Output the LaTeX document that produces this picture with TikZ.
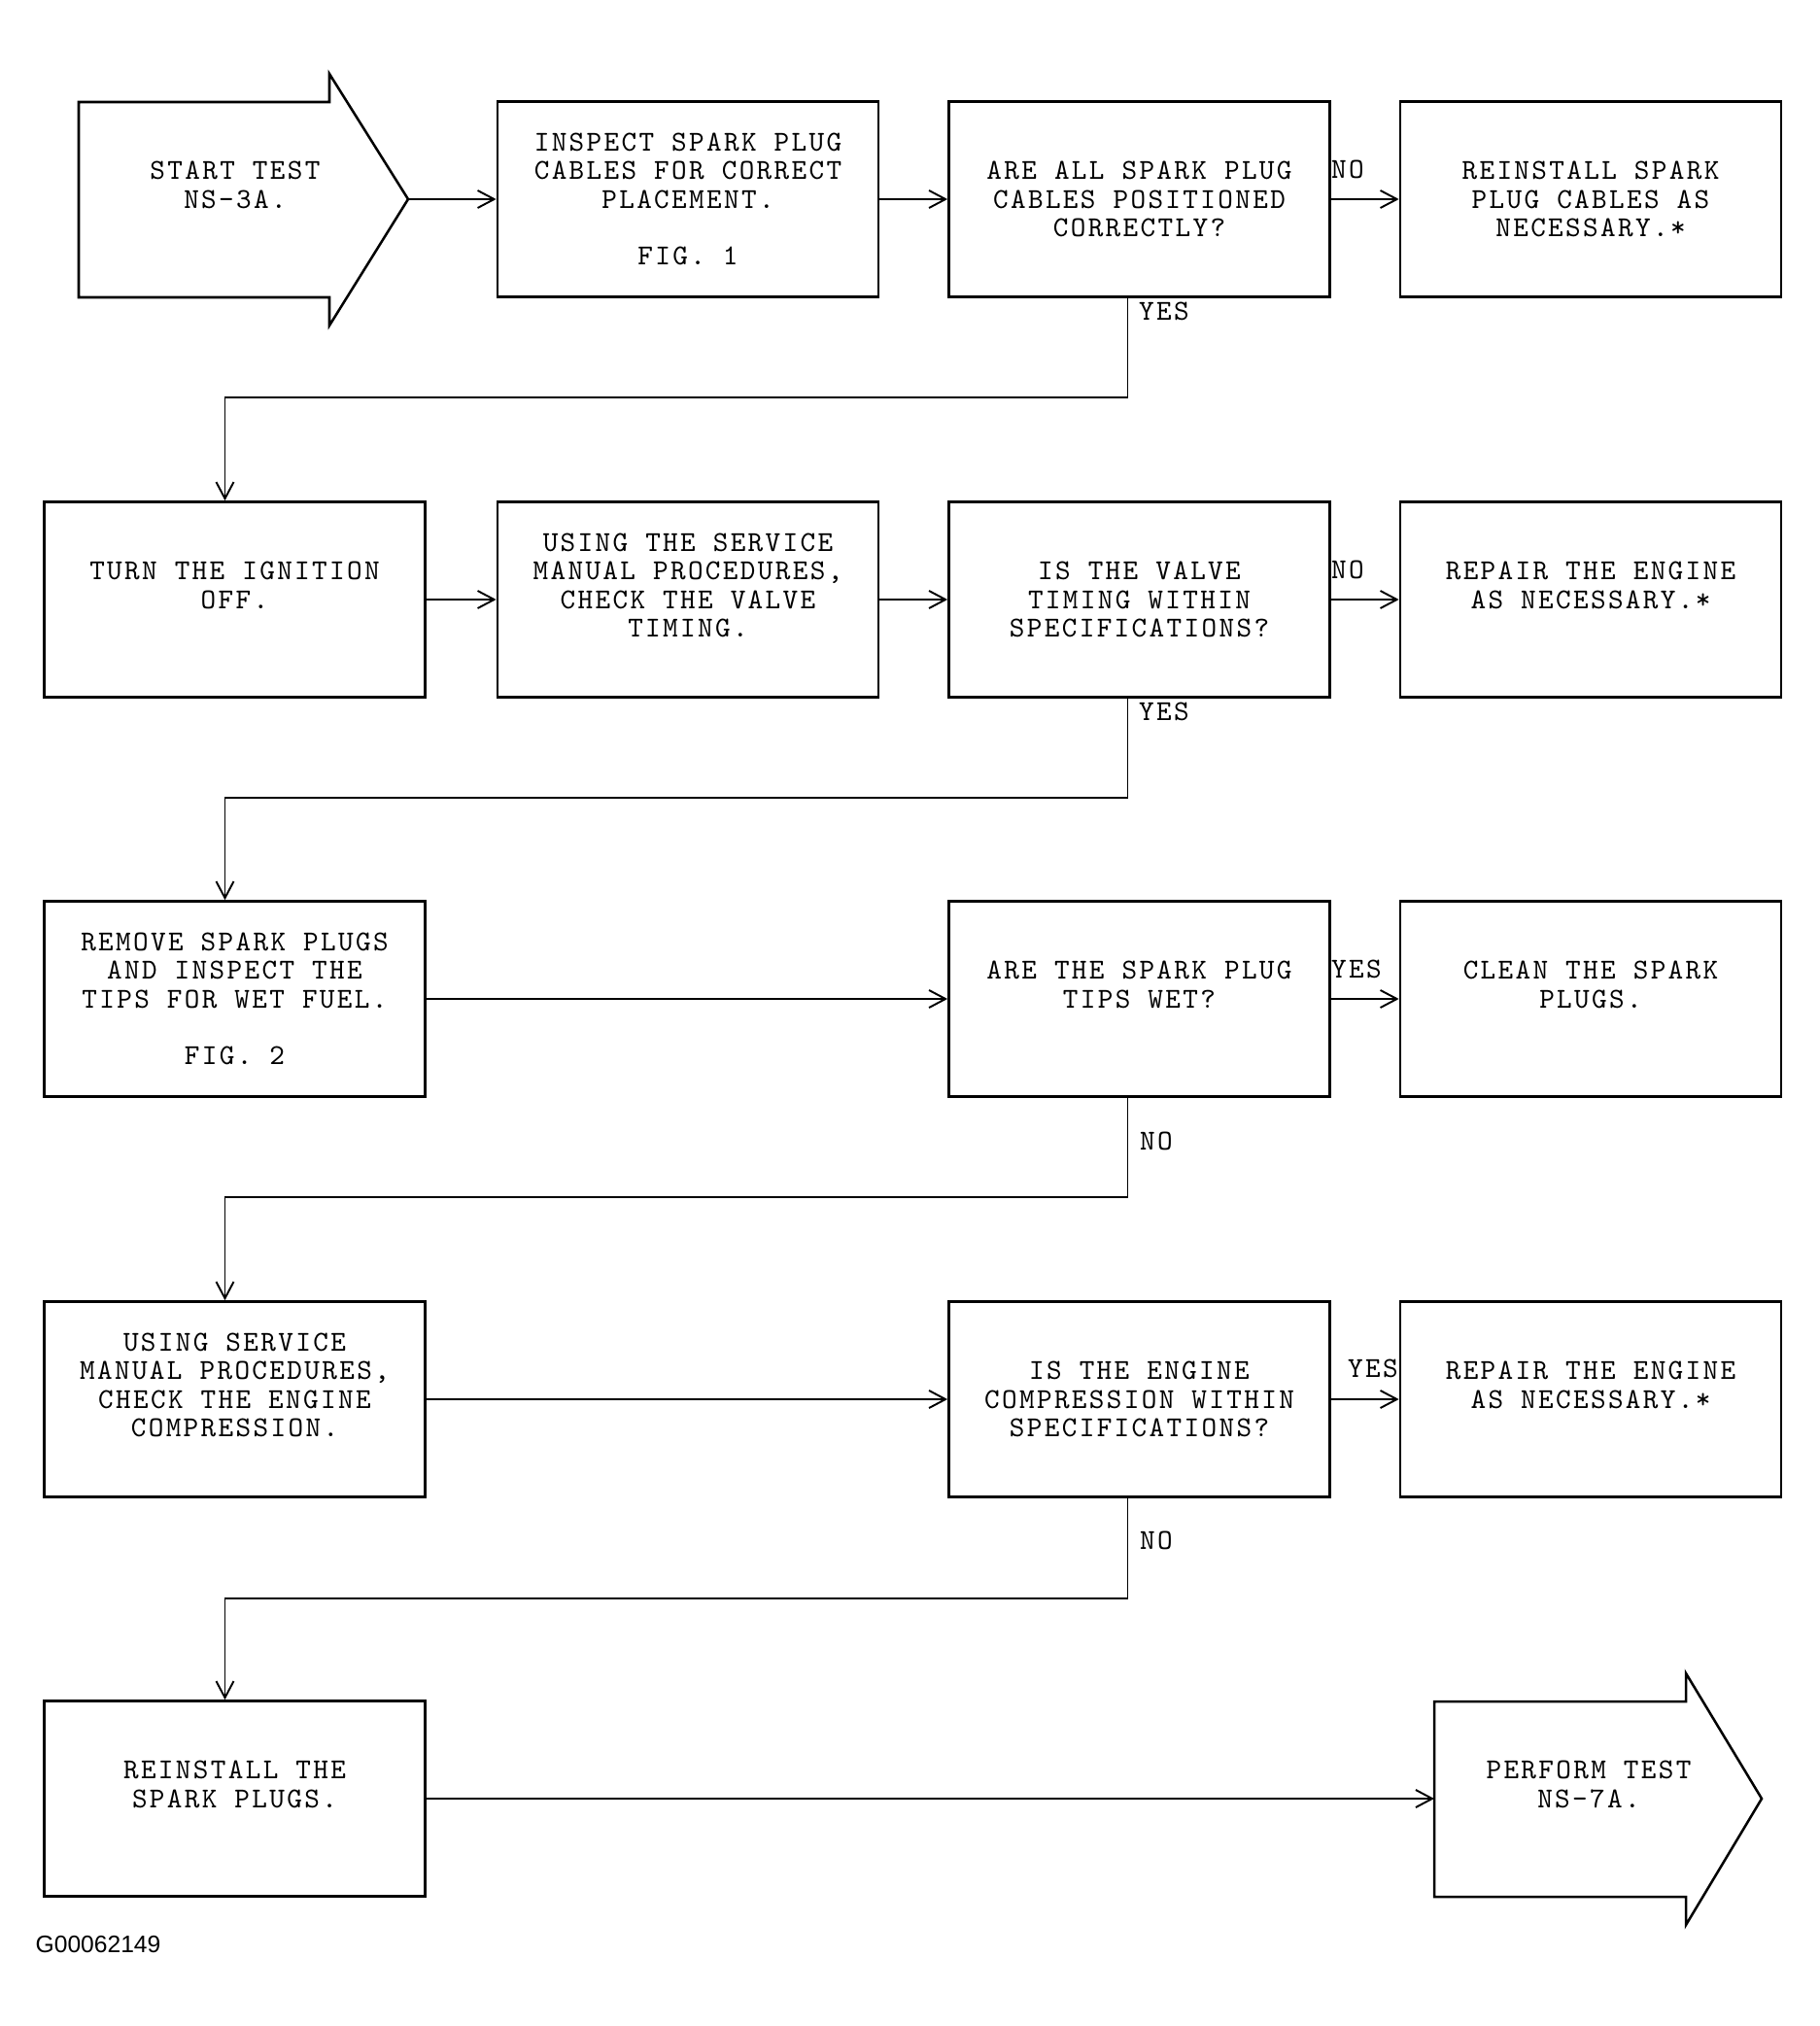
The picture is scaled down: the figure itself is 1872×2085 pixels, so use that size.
\documentclass[tikz,border=0pt]{standalone}
\usepackage{fontspec}
\setmonofont{lmmono10-regular.otf}[LetterSpace=8]
\setsansfont{Liberation Sans}
\usetikzlibrary{arrows.meta,calc}
\newcommand\flowfont{\ttfamily\fontsize{8.45}{8.35}\selectfont}
\begin{document}
\begin{tikzpicture}[x=0.01cm,y=-0.01cm,
  boxnode/.style={draw, line width=0.72pt, minimum width=3.92cm, minimum height=2.01cm, inner sep=0pt, align=center, font=\flowfont},
  shapeline/.style={draw, line width=0.72pt, line join=miter},
  txt/.style={align=center, font=\flowfont, inner sep=0pt},
  lbl/.style={font=\flowfont, inner sep=0pt},
  conn/.style={line width=0.55pt, -{Straight Barb[length=1.7mm,width=1.8mm]}},
]
\useasboundingbox (0,0) rectangle (1872,2085);

% start arrow
\draw[shapeline] (81,105) -- (339,105) -- (339,76) -- (420,205) -- (339,335) -- (339,306) -- (81,306) -- cycle;
\node[txt] (start) at (242,205) {START TEST\\NS-3A.\\\mbox{}};
\coordinate (starttip) at (420,205);

% end arrow
\draw[shapeline] (1476,1751) -- (1735,1751) -- (1735,1722) -- (1813,1851) -- (1735,1981) -- (1735,1952) -- (1476,1952) -- cycle;
\node[txt] (finish) at (1635,1851) {PERFORM TEST\\NS-7A.\\\mbox{}};
\coordinate (endin) at (1476,1851);

% row 1
\node[boxnode] (b12) at (708,205) {INSPECT SPARK PLUG\\CABLES FOR CORRECT\\PLACEMENT.\\\mbox{}\\FIG. 1};
\node[boxnode] (b13) at (1172.5,205) {ARE ALL SPARK PLUG\\CABLES POSITIONED\\CORRECTLY?};
\node[boxnode] (b14) at (1637,205) {REINSTALL SPARK\\PLUG CABLES AS\\NECESSARY.*};
% row 2
\node[boxnode] (b21) at (241.5,617) {TURN THE IGNITION\\OFF.\\\mbox{}};
\node[boxnode] (b22) at (708,617) {USING THE SERVICE\\MANUAL PROCEDURES,\\CHECK THE VALVE\\TIMING.\\\mbox{}};
\node[boxnode] (b23) at (1172.5,617) {IS THE VALVE\\TIMING WITHIN\\SPECIFICATIONS?};
\node[boxnode] (b24) at (1637,617) {REPAIR THE ENGINE\\AS NECESSARY.*\\\mbox{}};
% row 3
\node[boxnode] (b31) at (241.5,1028) {REMOVE SPARK PLUGS\\AND INSPECT THE\\TIPS FOR WET FUEL.\\\mbox{}\\FIG. 2};
\node[boxnode] (b33) at (1172.5,1028) {ARE THE SPARK PLUG\\TIPS WET?\\\mbox{}};
\node[boxnode] (b34) at (1637,1028) {CLEAN THE SPARK\\PLUGS.\\\mbox{}};
% row 4
\node[boxnode] (b41) at (241.5,1440) {USING SERVICE\\MANUAL PROCEDURES,\\CHECK THE ENGINE\\COMPRESSION.\\\mbox{}};
\node[boxnode] (b43) at (1172.5,1440) {IS THE ENGINE\\COMPRESSION WITHIN\\SPECIFICATIONS?};
\node[boxnode] (b44) at (1637,1440) {REPAIR THE ENGINE\\AS NECESSARY.*\\\mbox{}};
% row 5
\node[boxnode] (b51) at (241.5,1851) {REINSTALL THE\\SPARK PLUGS.\\\mbox{}};

% connectors
\draw[conn] (starttip) -- (b12.west);
\draw[conn] (b12.east) -- (b13.west);
\draw[conn] (b13.east) -- (b14.west);
\draw[conn] ([xshift=-0.12cm]b13.south) -- ++(0,102) -| ([xshift=-0.1cm]b21.north);
\draw[conn] (b21.east) -- (b22.west);
\draw[conn] (b22.east) -- (b23.west);
\draw[conn] (b23.east) -- (b24.west);
\draw[conn] ([xshift=-0.12cm]b23.south) -- ++(0,102) -| ([xshift=-0.1cm]b31.north);
\draw[conn] (b31.east) -- (b33.west);
\draw[conn] (b33.east) -- (b34.west);
\draw[conn] ([xshift=-0.12cm]b33.south) -- ++(0,102) -| ([xshift=-0.1cm]b41.north);
\draw[conn] (b41.east) -- (b43.west);
\draw[conn] (b43.east) -- (b44.west);
\draw[conn] ([xshift=-0.12cm]b43.south) -- ++(0,103) -| ([xshift=-0.1cm]b51.north);
\draw[conn] (b51.east) -- (endin);

% labels
\node[lbl] (l1) at (1387,174) {NO};
\node[lbl] (l2) at (1198,320) {YES};
\node[lbl] (l3) at (1387,586) {NO};
\node[lbl] (l4) at (1198,732) {YES};
\node[lbl] (l5) at (1396,997) {YES};
\node[lbl] (l6) at (1190,1174) {NO};
\node[lbl] (l7) at (1413,1408) {YES};
\node[lbl] (l8) at (1190,1585) {NO};

\node[font=\sffamily\fontsize{7}{8}\selectfont, anchor=west, inner sep=0pt] (gid) at (36,2001) {G00062149};
\end{tikzpicture}
\end{document}
